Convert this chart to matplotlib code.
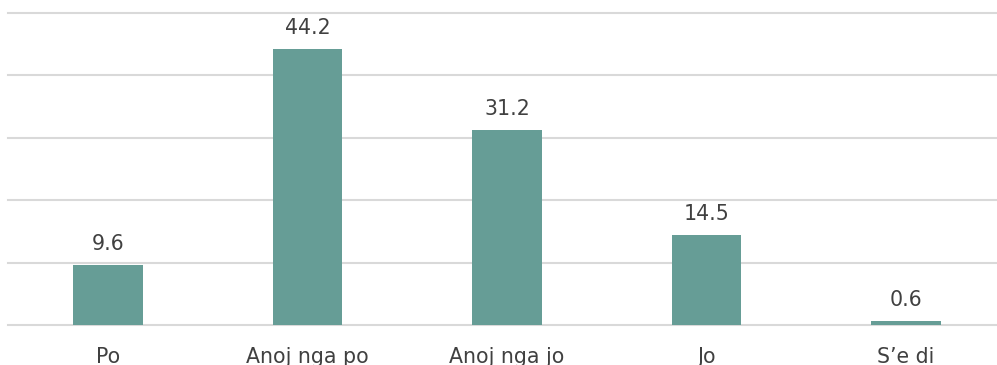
import matplotlib
matplotlib.use("Agg")
import matplotlib.pyplot as plt

categories = ["Po", "Anoj nga po", "Anoj nga jo", "Jo", "S\u2019e di"]
values = [9.6, 44.2, 31.2, 14.5, 0.6]
value_labels = ["9.6", "44.2", "31.2", "14.5", "0.6"]

plt.rcParams['font.family'] = ['DejaVu Sans']

W, H = 997, 365
fig = plt.figure(figsize=(W / 100, H / 100), dpi=100)
left_px, bottom_px, top_px = 8, 325, 13
ax = fig.add_axes([left_px / W, (H - bottom_px) / H, 1 - left_px / W, (bottom_px - top_px) / H])

x = list(range(len(categories)))
ax.bar(x, values, width=0.346, color="#669D96", zorder=3)

xmin = -100 / 199.5
ax.set_xlim(xmin, xmin + (W - left_px) / 199.5)
ax.set_ylim(0, 50)
ax.set_yticks([0, 10, 20, 30, 40, 50])
ax.yaxis.grid(True, color="#D9D9D9", linewidth=1.5, zorder=0)
for gl in ax.yaxis.get_gridlines():
    gl.set_clip_on(False)
ax.tick_params(axis='y', left=False, labelleft=False)
ax.set_xticks(x)
ax.set_xticklabels(categories, fontsize=14.8, color="#404040")
ax.tick_params(axis='x', length=0, pad=16)
for s in ax.spines.values():
    s.set_visible(False)

for xi, v, lab in zip(x, values, value_labels):
    ax.annotate(lab, (xi, v), xytext=(0, 11), textcoords='offset pixels',
                ha='center', va='bottom', fontsize=14.8, color="#404040")

fig.savefig("out.png", dpi=100)
